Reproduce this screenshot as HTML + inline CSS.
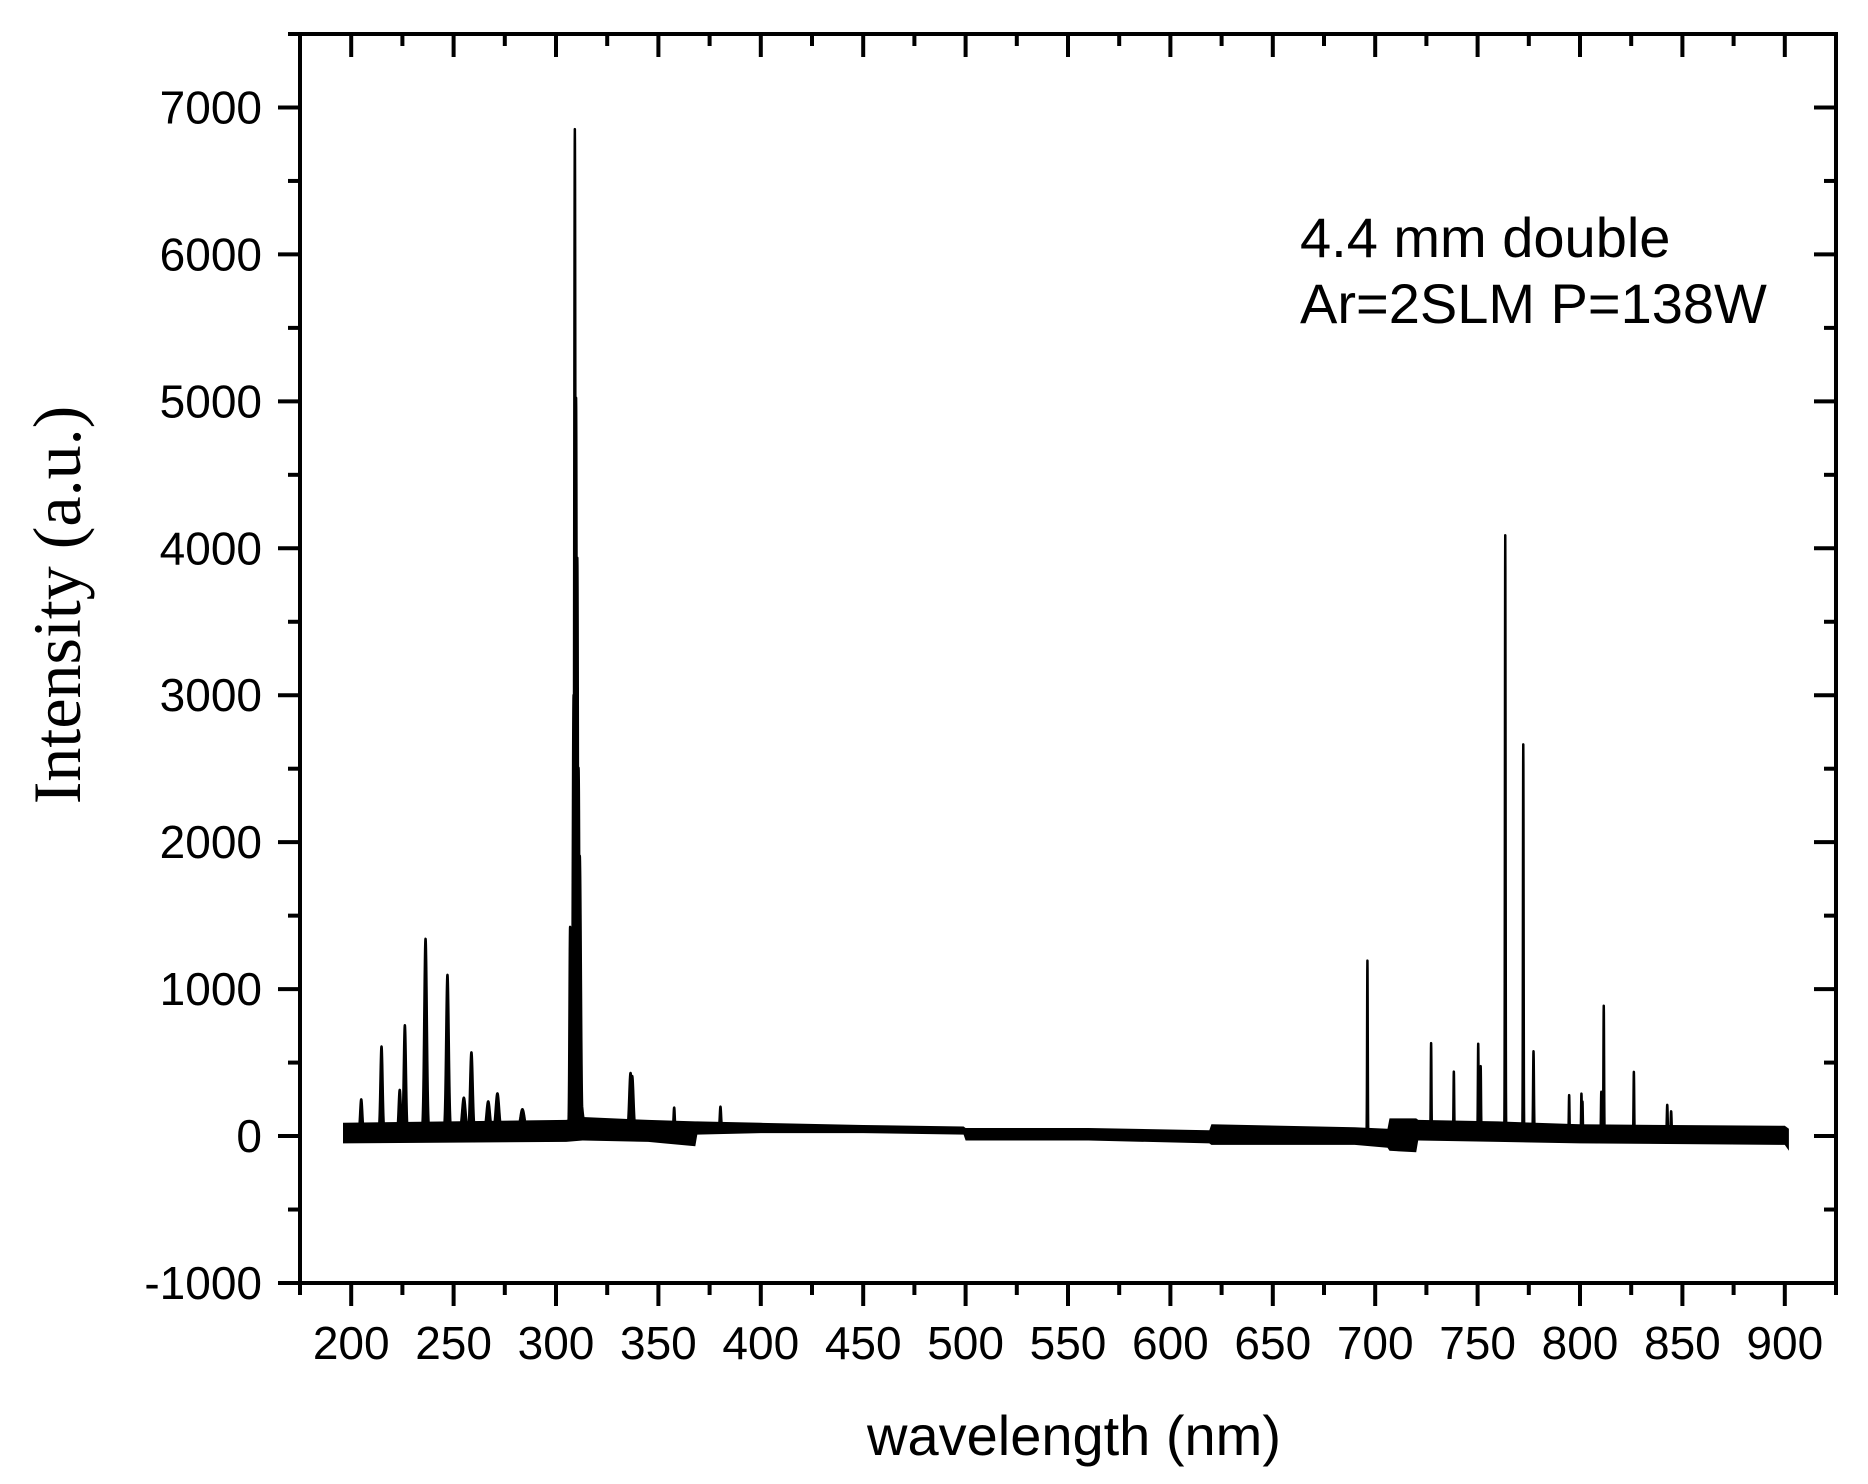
<!DOCTYPE html>
<html><head><meta charset="utf-8"><style>
html,body{margin:0;padding:0;background:#fff;}
svg{display:block;}
text{font-family:"Liberation Sans",sans-serif;fill:#000;}
</style></head><body>
<svg id="chart" width="1868" height="1484" viewBox="0 0 1868 1484" xmlns="http://www.w3.org/2000/svg">
<defs><clipPath id="clip"><rect x="300" y="34" width="1536" height="1249"/></clipPath></defs>
<g id="axes"></g>
<g id="series" clip-path="url(#clip)"></g>
<text x="1300" y="257" font-size="56">4.4 mm double</text>
<text x="1300" y="323" font-size="56">Ar=2SLM P=138W</text>
<text x="1074" y="1455" font-size="56" text-anchor="middle">wavelength (nm)</text>
<text transform="translate(80,605) rotate(-90)" font-size="68" text-anchor="middle" style="font-family:'Liberation Serif',serif">Intensity (a.u.)</text>
</svg>
<script>
const xTicks=[200,250,300,350,400,450,500,550,600,650,700,750,800,850,900];
const yTicks=[-1000,0,1000,2000,3000,4000,5000,6000,7000];
const peakWl=[204.9,214.8,223.7,226.2,236.3,247,255,258.7,266.9,271.4,283.6,306.9,308.6,309.2,309.8,310.4,311,311.6,310,336.4,337.2,357.7,380.3,696.2,727.3,738.4,750.3,751.5,763.5,772.3,777.3,794.7,800.7,801.2,810.4,811.6,826.3,842.6,844.5];
const peakVal=[268,627,330,770,1357,1110,273,581,246,300,190,1425,3000,6850,5020,3930,2500,1900,700,430,410,210,185,1240,634,443,636,484,4100,2680,593,302,314,260,327,913,464,241,198];
const peakSig=[0.5,0.5,0.5,0.5,0.6,0.6,0.8,0.6,0.8,0.8,1,0.3,0.4,0.3,0.3,0.3,0.4,0.5,1.6,0.6,0.6,0.3,0.3,0.15,0.15,0.15,0.15,0.15,0.15,0.15,0.2,0.15,0.15,0.15,0.15,0.15,0.15,0.2,0.2];
const baseWl=[196,305,313,345,368,369,400,450,499,500,560,619,620,690,706,707,720,721,760,800,900,902];
const baseLo=[-50,-40,-30,-40,-70,10,20,20,10,-30,-30,-50,-60,-60,-80,-100,-110,-30,-40,-50,-60,-100];
const baseHi=[90,110,130,110,100,100,90,75,65,55,55,40,80,60,50,120,120,110,100,80,70,50];

const L=300,R=1836,T=34,B=1283;
const xmin=175,xmax=925,ymin=-1000,ymax=7500;
const X=v=>L+(v-xmin)/(xmax-xmin)*(R-L);
const Y=v=>B-(v-ymin)/(ymax-ymin)*(B-T);
const NS='http://www.w3.org/2000/svg';
function mk(tag,attrs,parent){const e=document.createElementNS(NS,tag);for(const k in attrs)e.setAttribute(k,attrs[k]);parent.appendChild(e);return e;}
const ax=document.getElementById('axes'),sr=document.getElementById('series');

function interp(arr,w){for(let i=0;i<baseWl.length-1;i++){if(w>=baseWl[i]&&w<=baseWl[i+1]){const t=(w-baseWl[i])/(baseWl[i+1]-baseWl[i]);return arr[i]+t*(arr[i+1]-arr[i]);}}return arr[arr.length-1];}

let up=[],lo=[];
for(let i=0;i<baseWl.length;i++){up.push(X(baseWl[i]).toFixed(1)+','+Y(baseHi[i]).toFixed(1));lo.unshift(X(baseWl[i]).toFixed(1)+','+Y(baseLo[i]).toFixed(1));}
const band=mk('polygon',{points:up.concat(lo).join(' '),fill:'#000'},sr);



let pts=[];
for(let w=196;w<=902;w+=0.05){
  let v=(interp(baseLo,w)+interp(baseHi,w))/2,add=0;
  for(let j=0;j<peakWl.length;j++){const d=(w-peakWl[j])/peakSig[j];if(Math.abs(d)<6)add=Math.max(add,(peakVal[j]-40)*Math.exp(-0.5*d*d));}
  if(add>15)pts.push(X(w).toFixed(2)+','+Y(v+add).toFixed(1));
  else pts.push(null);
}
let segs=[],cur=[];
pts.forEach(p=>{if(p)cur.push(p);else{if(cur.length){segs.push(cur);cur=[];}}});
if(cur.length)segs.push(cur);
segs.forEach(s=>{
  const pl=mk('polyline',{points:s.join(' '),fill:'#000',stroke:'#000','stroke-width':2.5,'stroke-linejoin':'round'},sr);
  
  
});

const fr=mk('rect',{x:L,y:T,width:R-L,height:B-T,fill:'none',stroke:'#000','stroke-width':4},ax);


for(let v=175;v<=925;v+=25){
  const major=(v%50===0);const len=major?23:12;
  const t=mk('line',{x1:X(v),x2:X(v),y1:B,y2:B+len,stroke:'#000','stroke-width':4},ax);
  
  
  const t2=mk('line',{x1:X(v),x2:X(v),y1:T,y2:T+len,stroke:'#000','stroke-width':4},ax);
  
  
}
xTicks.forEach(v=>{
  const t=mk('text',{x:X(v),y:1359,'font-size':46,'text-anchor':'middle'},ax);
  t.textContent=v;
  
  
});
for(let v=-1000;v<=7500;v+=500){
  const major=(v%1000===0);const len=major?22:12;
  const t=mk('line',{x1:L-len,x2:L,y1:Y(v),y2:Y(v),stroke:'#000','stroke-width':4},ax);
  
  
  const t2=mk('line',{x1:R-len,x2:R,y1:Y(v),y2:Y(v),stroke:'#000','stroke-width':4},ax);
  
  
}
yTicks.forEach(v=>{
  const t=mk('text',{x:262,y:Y(v)+16,'font-size':46,'text-anchor':'end'},ax);
  t.textContent=v;
  
  
});
</script>
</body></html>
